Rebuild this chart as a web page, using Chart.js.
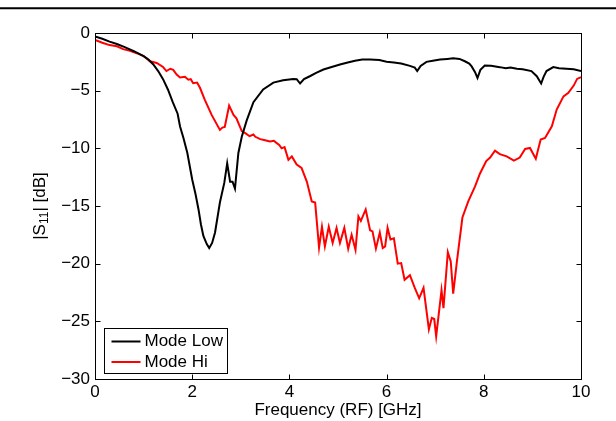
<!DOCTYPE html>
<html>
<head>
<meta charset="utf-8">
<script src="https://cdn.jsdelivr.net/npm/chart.js@4"></script>
<style>
  html, body { margin: 0; padding: 0; background: #fff; }
  #wrap { width: 616px; height: 421px; }
</style>
</head>
<body>
<div id="wrap"><canvas id="s11Chart" width="616" height="421"></canvas></div>
<script>
// Values
const seriesNames = ["Mode Low", "Mode Hi"];
const xTicks = [0, 2, 4, 6, 8, 10];
const yTicks = [-30, -25, -20, -15, -10, -5, 0];

const freqLow = [0, 0.15, 0.3, 0.45, 0.6, 0.8, 1.0, 1.1, 1.2, 1.3, 1.4, 1.5, 1.6, 1.7, 1.75, 1.82, 1.9, 2.0, 2.07, 2.13, 2.18, 2.23,
    2.3, 2.35, 2.41, 2.47, 2.52, 2.57, 2.66, 2.72, 2.78, 2.83, 2.88, 2.95, 3.02, 3.12, 3.26, 3.46, 3.67, 3.87, 4.08,
    4.15, 4.22, 4.3, 4.42, 4.55, 4.7, 4.87, 5.04, 5.2, 5.35, 5.5, 5.66, 5.85, 6.0, 6.15, 6.3, 6.48, 6.58, 6.63, 6.7,
    6.82, 6.95, 7.1, 7.25, 7.37, 7.5, 7.61, 7.7, 7.75, 7.82, 7.87, 7.93, 8.02, 8.15, 8.33, 8.45, 8.55, 8.68, 8.8, 8.98,
    9.09, 9.14, 9.18, 9.23, 9.29, 9.43, 9.55, 9.7, 9.85, 10.0];
const s11Low = [-0.3, -0.5, -0.75, -0.95, -1.2, -1.58, -2.0, -2.3, -2.73, -3.3, -4.0, -4.9, -6.0, -7.0, -8.1, -9.1, -10.4, -12.7, -14.0, -15.3, -16.6, -17.6,
    -18.3, -18.65, -18.2, -17.3, -16.0, -14.7, -13.0, -11.3, -12.9, -12.9, -13.5, -10.4, -9.0, -7.6, -6.0, -4.9, -4.3, -4.1, -3.98,
    -4.0, -4.38, -4.0, -3.75, -3.45, -3.17, -2.95, -2.73, -2.55, -2.4, -2.3, -2.3, -2.35, -2.5, -2.55, -2.65, -2.85, -3.0, -3.3, -2.85,
    -2.5, -2.4, -2.3, -2.25, -2.2, -2.25, -2.45, -2.65, -2.9, -3.4, -3.9, -3.2, -2.82, -2.85, -2.96, -3.05, -3.0, -3.1, -3.15, -3.3,
    -3.75, -4.1, -4.38, -3.8, -3.3, -2.96, -3.05, -3.1, -3.15, -3.3];

const freqHi = [0, 0.15, 0.3, 0.45, 0.58, 0.72, 0.86, 1.0, 1.13, 1.27, 1.4, 1.47, 1.55, 1.61, 1.68, 1.75, 1.85, 1.92, 1.97, 2.02, 2.1, 2.16,
    2.26, 2.4, 2.57, 2.62, 2.67, 2.76, 2.85, 2.91, 3.02, 3.1, 3.18, 3.26, 3.3, 3.4, 3.5, 3.6, 3.68, 3.74, 3.79, 3.84, 3.9,
    3.98, 4.05, 4.15, 4.25, 4.36, 4.46, 4.53, 4.61, 4.67, 4.73, 4.81, 4.89, 4.97, 5.04, 5.13, 5.21, 5.28, 5.36, 5.42, 5.47,
    5.57, 5.66, 5.71, 5.78, 5.86, 5.92, 5.97, 6.02, 6.08, 6.15, 6.23, 6.3, 6.37, 6.48, 6.58, 6.67, 6.76, 6.87, 6.93, 6.98,
    7.02, 7.13, 7.17, 7.26, 7.32, 7.37, 7.45, 7.56, 7.68, 7.82, 7.92, 8.05, 8.13, 8.23, 8.33, 8.47, 8.62, 8.74, 8.85, 8.95,
    9.07, 9.17, 9.26, 9.4, 9.5, 9.64, 9.74, 9.85, 9.92, 10.0];
const s11Hi = [-0.6, -0.85, -1.05, -1.15, -1.4, -1.55, -1.75, -2.0, -2.45, -2.6, -2.95, -3.3, -3.1, -3.2, -3.6, -3.85, -3.8, -4.05, -4.0, -4.35, -4.3, -4.75,
    -5.8, -7.1, -8.4, -8.2, -8.15, -6.3, -7.1, -7.4, -8.5, -8.7, -8.95, -8.8, -9.0, -9.2, -9.3, -9.4, -9.35, -9.55, -9.7, -10.0, -9.9,
    -11.0, -10.7, -11.4, -11.7, -12.9, -14.6, -14.7, -18.6, -16.8, -18.5, -16.8, -18.2, -16.9, -18.2, -16.9, -18.7, -17.5, -18.8, -15.9, -16.3,
    -15.3, -17.1, -17.2, -18.7, -17.3, -18.65, -18.5, -16.9, -17.9, -17.8, -20.0, -19.95, -21.4, -21.0, -22.1, -23.0, -22.1, -25.7, -24.7, -24.8,
    -26.3, -22.3, -23.85, -19.0, -19.8, -22.6, -19.7, -16.0, -14.6, -13.3, -12.2, -11.1, -10.8, -10.2, -10.5, -10.7, -11.07, -10.8, -10.05, -9.97,
    -10.9, -9.24, -9.1, -8.09, -6.64, -5.49, -5.19, -4.56, -3.98, -3.83];

const FONT = '"Liberation Sans", Arial, Helvetica, sans-serif';

function toPoints(xs, ys) {
    return xs.map((x, i) => ({ x: x, y: ys[i] }));
}

function minusSign(v) {
    return String(v).replace("-", "\u2212");
}

// box, inward ticks, y title with subscript, legend and the top rule
const matlabFrame = {
    id: "matlabFrame",
    afterDraw(chart) {
        const ctx = chart.ctx;
        const a = chart.chartArea;
        const xs = chart.scales.x;
        const ys = chart.scales.y;
        const L = Math.round(a.left) + 0.5, R = Math.round(a.right) + 0.5;
        const T = Math.round(a.top) + 0.5, B = Math.round(a.bottom) + 0.5;

        ctx.save();
        ctx.strokeStyle = "#000";
        ctx.lineWidth = 1;
        ctx.strokeRect(L, T, R - L, B - T);

        ctx.beginPath();
        xTicks.forEach(v => {
            const px = Math.round(xs.getPixelForValue(v)) + 0.5;
            ctx.moveTo(px, B); ctx.lineTo(px, B - 5);
            ctx.moveTo(px, T); ctx.lineTo(px, T + 5);
        });
        yTicks.forEach(v => {
            const py = Math.round(ys.getPixelForValue(v)) + 0.5;
            ctx.moveTo(L, py); ctx.lineTo(L + 5, py);
            ctx.moveTo(R, py); ctx.lineTo(R - 5, py);
        });
        ctx.stroke();

        // top rule across the page
        ctx.lineWidth = 2;
        ctx.beginPath();
        ctx.moveTo(0, 8.3); ctx.lineTo(616, 8.3);
        ctx.stroke();

        // y title: |S11| [dB]
        ctx.fillStyle = "#000";
        ctx.textBaseline = "middle";
        ctx.textAlign = "left";
        const mainFont = "17px " + FONT, subFont = "12px " + FONT;
        ctx.font = mainFont; const w1 = ctx.measureText("|S").width; const w3 = ctx.measureText("| [dB]").width;
        ctx.font = subFont; const w2 = ctx.measureText("11").width;
        ctx.translate(40, (a.top + a.bottom) / 2);
        ctx.rotate(-Math.PI / 2);
        let x0 = -(w1 + w2 + w3) / 2;
        ctx.font = mainFont; ctx.fillText("|S", x0, 0);
        ctx.font = subFont; ctx.fillText("11", x0 + w1, 5);
        ctx.font = mainFont; ctx.fillText("| [dB]", x0 + w1 + w2, 0);
        ctx.restore();

        // legend box in lower left
        ctx.save();
        const bx = Math.round(a.left) + 9.5, by = Math.round(a.bottom) - 50.5;
        ctx.fillStyle = "#fff";
        ctx.fillRect(bx, by, 123, 45);
        ctx.strokeStyle = "#000";
        ctx.lineWidth = 1;
        ctx.strokeRect(bx, by, 123, 45);
        ctx.font = "17px " + FONT;
        ctx.textBaseline = "middle";
        chart.data.datasets.forEach((ds, i) => {
            const ly = by + 13 + i * 20.5;
            ctx.strokeStyle = ds.borderColor;
            ctx.lineWidth = 2;
            ctx.beginPath();
            ctx.moveTo(bx + 7, ly); ctx.lineTo(bx + 36, ly);
            ctx.stroke();
            ctx.fillStyle = "#000";
            ctx.fillText(ds.label, bx + 40, ly);
        });
        ctx.restore();
    }
};

const ctx = document.getElementById("s11Chart").getContext("2d");
new Chart(ctx, {
    type: "line",
    data: {
        datasets: [
            { label: seriesNames[0], data: toPoints(freqLow, s11Low), borderColor: "#000000", borderWidth: 2 },
            { label: seriesNames[1], data: toPoints(freqHi, s11Hi), borderColor: "#ff0000", borderWidth: 2 }
        ]
    },
    options: {
        responsive: false,
        animation: false,
        events: [],
        layout: { padding: { left: 0, right: 35, top: 33, bottom: 0 } },
        elements: { point: { radius: 0 }, line: { tension: 0 } },
        plugins: { legend: { display: false }, tooltip: { enabled: false } },
        scales: {
            x: {
                type: "linear",
                min: 0, max: 10,
                afterBuildTicks: s => { s.ticks = xTicks.map(v => ({ value: v })); },
                afterFit: s => { s.height = 42; },
                grid: { display: false, drawTicks: false },
                border: { display: false },
                ticks: { color: "#000", padding: 3, font: { size: 17, family: FONT }, callback: v => minusSign(v), maxRotation: 0 },
                title: { display: true, text: "Frequency (RF) [GHz]", color: "#000", padding: 0, font: { size: 17, family: FONT } }
            },
            y: {
                min: -30, max: 0,
                afterBuildTicks: s => { s.ticks = yTicks.map(v => ({ value: v })); },
                afterFit: s => { s.width = 95; },
                grid: { display: false, drawTicks: false },
                border: { display: false },
                ticks: { color: "#000", padding: 5, font: { size: 17, family: FONT }, callback: v => minusSign(v) }
            }
        }
    },
    plugins: [matlabFrame]
});
</script>
</body>
</html>
